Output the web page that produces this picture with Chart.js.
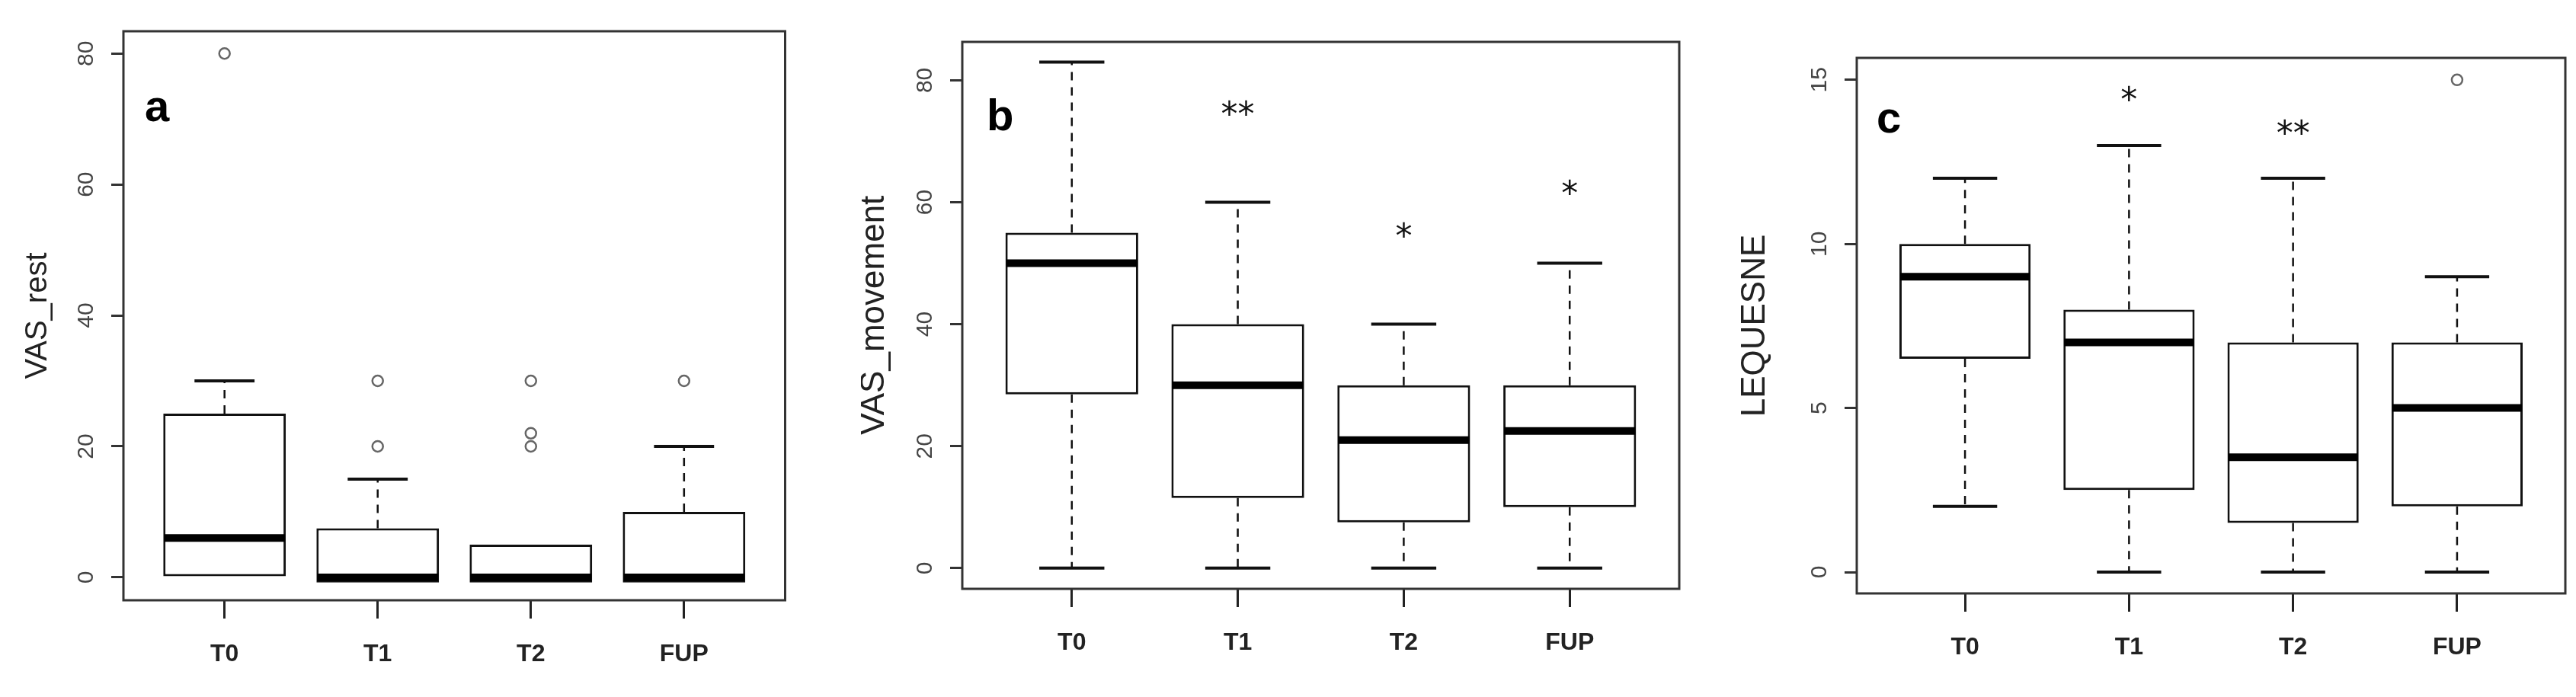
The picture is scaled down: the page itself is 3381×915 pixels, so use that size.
<!DOCTYPE html>
<html>
<head>
<meta charset="utf-8">
<script src="https://cdn.jsdelivr.net/npm/chart.js@4"></script>
<style>
  body { margin: 0; background: #fff; }
  .panel { position: absolute; top: 0; height: 915px; }
</style>
</head>
<body>
<div class="panel" style="left:0;width:1040px"><canvas id="chartA"></canvas></div>
<div class="panel" style="left:1130px;width:1090px"><canvas id="chartB"></canvas></div>
<div class="panel" style="left:2260px;width:1121px"><canvas id="chartC"></canvas></div>
<script>
// categories shared by all panels
const categories = ['T0', 'T1', 'T2', 'FUP'];

// panel a: VAS_rest
const restLow = [0, 0, 0, 0];
const restQ1 = [0, -0.8, -0.8, -0.8];
const restMedian = [6, 0, 0, 0];
const restQ3 = [25, 7.5, 5, 10];
const restHigh = [30, 15, 5, 20];
const restOutliers = [[80], [20, 30], [20, 22, 30], [30]];
const restTicks = [0, 20, 40, 60, 80];

// panel b: VAS_movement
const moveLow = [0, 0, 0, 0];
const moveQ1 = [28.5, 11.5, 7.5, 10];
const moveMedian = [50, 30, 21, 22.5];
const moveQ3 = [55, 40, 30, 30];
const moveHigh = [83, 60, 40, 50];
const moveOutliers = [[], [], [], []];
const moveTicks = [0, 20, 40, 60, 80];
const moveStars = ['', '**', '*', '*'];
const moveStarY = [0, 74, 54, 61];

// panel c: LEQUESNE
const leqLow = [2, 0, 0, 0];
const leqQ1 = [6.5, 2.5, 1.5, 2];
const leqMedian = [9, 7, 3.5, 5];
const leqQ3 = [10, 8, 7, 7];
const leqHigh = [12, 13, 12, 9];
const leqOutliers = [[], [], [], [15]];
const leqTicks = [0, 5, 10, 15];
const leqStars = ['', '*', '**', ''];
const leqStarY = [0, 14.3, 13.3, 0];

const boxPlotPlugin = {
  id: 'boxPlot',
  afterDatasetsDraw(chart) {
    const o = chart.options.plugins.boxPlot;
    const ctx = chart.ctx;
    const x = chart.scales.x, y = chart.scales.y;
    const area = chart.chartArea;
    const half = x.getPixelForValue(1.4) - x.getPixelForValue(1);
    const cap = half * 0.49;
    ctx.save();
    ctx.strokeStyle = '#111';
    categories.forEach((c, i) => {
      const cx = x.getPixelForValue(i + 1);
      // whiskers
      ctx.lineWidth = 2.5;
      ctx.setLineDash([11, 9]);
      ctx.beginPath();
      if (o.high[i] > o.q3[i]) { ctx.moveTo(cx, y.getPixelForValue(o.q3[i])); ctx.lineTo(cx, y.getPixelForValue(o.high[i])); }
      if (o.low[i] < o.q1[i] && o.low[i] < o.median[i]) { ctx.moveTo(cx, y.getPixelForValue(o.q1[i])); ctx.lineTo(cx, y.getPixelForValue(o.low[i])); }
      ctx.stroke();
      ctx.setLineDash([]);
      ctx.lineWidth = 4;
      ctx.beginPath();
      if (o.high[i] > o.q3[i]) { const yy = y.getPixelForValue(o.high[i]); ctx.moveTo(cx - cap, yy); ctx.lineTo(cx + cap, yy); }
      if (o.low[i] < o.q1[i] && o.low[i] < o.median[i]) { const yy = y.getPixelForValue(o.low[i]); ctx.moveTo(cx - cap, yy); ctx.lineTo(cx + cap, yy); }
      ctx.stroke();
      // median
      ctx.lineWidth = 10;
      ctx.strokeStyle = '#000';
      ctx.beginPath();
      const my = y.getPixelForValue(o.median[i]);
      ctx.moveTo(cx - half + 1, my); ctx.lineTo(cx + half - 1, my);
      ctx.stroke();
      ctx.strokeStyle = '#111';
      // stars
      if (o.stars && o.stars[i]) {
        ctx.fillStyle = '#111';
        ctx.font = '44px "DejaVu Sans"';
        ctx.textAlign = 'center';
        ctx.textBaseline = 'middle';
        ctx.fillText(o.stars[i], cx, y.getPixelForValue(o.starY[i]));
      }
    });
    // frame
    ctx.lineWidth = 3;
    ctx.strokeStyle = '#333';
    ctx.strokeRect(area.left, area.top, area.right - area.left, area.bottom - area.top);
    // rotated y tick labels
    ctx.fillStyle = '#444';
    ctx.font = '30px "Liberation Sans"';
    ctx.textAlign = 'center';
    ctx.textBaseline = 'middle';
    o.ticks.forEach(t => {
      ctx.save();
      ctx.translate(area.left - 48, y.getPixelForValue(t));
      ctx.rotate(-Math.PI / 2);
      ctx.fillText(String(t), 0, 0);
      ctx.restore();
    });
    // axis title
    ctx.save();
    ctx.fillStyle = '#222';
    ctx.font = o.titleFont;
    ctx.translate(o.titleX, (area.top + area.bottom) / 2);
    ctx.rotate(-Math.PI / 2);
    ctx.fillText(o.title, 0, 0);
    ctx.restore();
    // panel letter
    ctx.fillStyle = '#000';
    ctx.font = 'bold 58px "Liberation Sans Narrow", "Liberation Sans"';
    ctx.textAlign = 'left';
    ctx.fillText(o.letter, area.left + o.letterDx, area.top + o.letterDy);
    ctx.restore();
  }
};

function makePanel(id, s) {
  const outlierPoints = [];
  s.outliers.forEach((list, i) => list.forEach(v => outlierPoints.push({ x: i + 1, y: v })));
  return new Chart(document.getElementById(id), {
    type: 'bar',
    data: {
      datasets: [
        {
          type: 'bar',
          data: categories.map((c, i) => ({ x: i + 1, y: [s.q1[i], s.q3[i]] })),
          backgroundColor: '#fff',
          borderColor: '#111',
          borderWidth: 3,
          borderSkipped: false,
          categoryPercentage: 0.8,
          barPercentage: 1.0
        },
        {
          type: 'scatter',
          data: outlierPoints,
          pointStyle: 'circle',
          radius: 7,
          borderColor: '#666',
          borderWidth: 2.5,
          backgroundColor: '#fff'
        }
      ]
    },
    options: {
      responsive: true,
      maintainAspectRatio: false,
      animation: false,
      layout: { padding: { top: s.padTop, right: s.padRight, left: 0, bottom: 0 } },
      plugins: {
        legend: { display: false },
        tooltip: { enabled: false },
        boxPlot: {
          low: s.low, q1: s.q1, median: s.median, q3: s.q3, high: s.high,
          stars: s.stars, starY: s.starY, ticks: s.ticks,
          title: s.title, titleX: s.titleX, titleFont: s.titleFont,
          letter: s.letter, letterDx: s.letterDx, letterDy: s.letterDy
        }
      },
      scales: {
        x: {
          type: 'linear',
          offset: false,
          min: 0.34,
          max: 4.66,
          afterBuildTicks: axis => { axis.ticks = [1, 2, 3, 4].map(v => ({ value: v })); },
          afterFit: axis => { axis.height = s.xHeight; },
          grid: { offset: false, drawOnChartArea: false, tickLength: 24, color: '#222', lineWidth: 3 },
          border: { display: false },
          ticks: {
            callback: v => categories[v - 1],
            color: '#222',
            padding: 28,
            font: { family: '"Liberation Sans Narrow", "Liberation Sans"', size: 32, weight: 'bold' }
          }
        },
        y: {
          min: s.yMin,
          max: s.yMax,
          afterBuildTicks: axis => { axis.ticks = s.ticks.map(v => ({ value: v })); },
          afterFit: axis => { axis.width = s.yWidth; },
          grid: { drawOnChartArea: false, tickLength: 16, color: '#333', lineWidth: 3 },
          border: { display: false },
          ticks: { display: false }
        }
      }
    },
    plugins: [boxPlotPlugin]
  });
}

makePanel('chartA', {
  low: restLow, q1: restQ1, median: restMedian, q3: restQ3, high: restHigh,
  outliers: restOutliers, ticks: restTicks, stars: null, starY: null,
  yMin: -3.5, yMax: 83.4, padTop: 41, padRight: 9, yWidth: 162, xHeight: 127,
  title: 'VAS_rest', titleX: 50, titleFont: '40px "Liberation Sans"',
  letter: 'a', letterDx: 28, letterDy: 102
});
makePanel('chartB', {
  low: moveLow, q1: moveQ1, median: moveMedian, q3: moveQ3, high: moveHigh,
  outliers: moveOutliers, ticks: moveTicks, stars: moveStars, starY: moveStarY,
  yMin: -3.4, yMax: 86.3, padTop: 55, padRight: 16, yWidth: 133, xHeight: 142,
  title: 'VAS_movement', titleX: 18, titleFont: '44px "Liberation Sans"',
  letter: 'b', letterDx: 32, letterDy: 100
});
makePanel('chartC', {
  low: leqLow, q1: leqQ1, median: leqMedian, q3: leqQ3, high: leqHigh,
  outliers: leqOutliers, ticks: leqTicks, stars: leqStars, starY: leqStarY,
  yMin: -0.65, yMax: 15.67, padTop: 76, padRight: 14, yWidth: 177, xHeight: 136,
  title: 'LEQUESNE', titleX: 44, titleFont: '44px "Liberation Sans"',
  letter: 'c', letterDx: 26, letterDy: 82
});
</script>
</body>
</html>
